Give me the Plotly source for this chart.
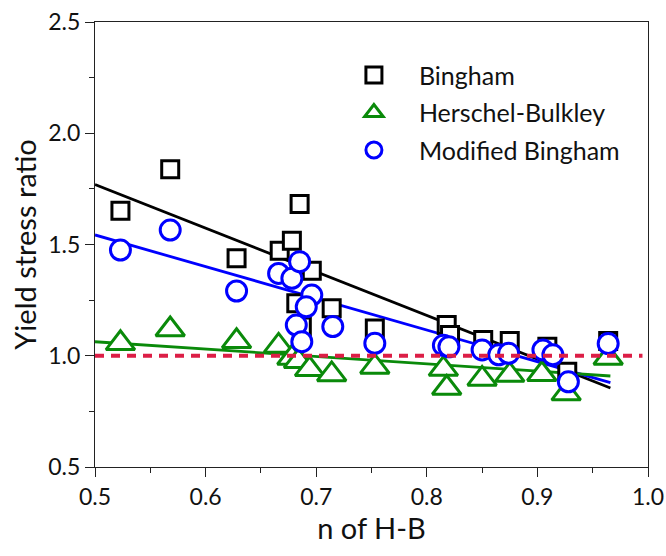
import plotly.graph_objects as go

# Power-law index n from the Herschel-Bulkley fit (x) and the yield stress ratio of each model (y)
bingham_n = [0.523, 0.568, 0.628, 0.667, 0.678, 0.685, 0.696, 0.682, 0.687, 0.714,
             0.753, 0.818, 0.821, 0.851, 0.875, 0.909, 0.927, 0.964]
bingham_ratio = [1.652, 1.838, 1.438, 1.472, 1.517, 1.682, 1.382, 1.236, 1.131, 1.213,
                 1.123, 1.138, 1.093, 1.071, 1.066, 1.040, 0.928, 1.066]

hb_n = [0.523, 0.568, 0.628, 0.666, 0.678, 0.684, 0.694, 0.714, 0.753, 0.815,
        0.818, 0.850, 0.875, 0.904, 0.926, 0.964]
hb_ratio = [1.056, 1.118, 1.065, 1.044, 0.990, 0.975, 0.939, 0.916, 0.950, 0.940,
            0.855, 0.896, 0.913, 0.917, 0.830, 0.990]

mb_n = [0.523, 0.568, 0.628, 0.666, 0.678, 0.685, 0.696, 0.691, 0.682, 0.687,
        0.715, 0.753, 0.815, 0.820, 0.850, 0.865, 0.874, 0.905, 0.914, 0.928, 0.964]
mb_ratio = [1.475, 1.565, 1.291, 1.370, 1.348, 1.423, 1.273, 1.220, 1.138, 1.063,
            1.131, 1.056, 1.047, 1.040, 1.026, 1.004, 1.011, 1.026, 1.004, 0.883, 1.055]

# Linear trend lines (end points of each fit)
fit_n = [0.5, 0.966]
bingham_fit = [1.770, 0.855]
hb_fit = [1.063, 0.909]
mb_fit = [1.543, 0.879]

# Reference level: ratio = 1
ref_n = [0.5, 0.995]
ref_ratio = [1.0, 1.0]

FONT = "Lato"
BLACK = "#000000"
GREEN = "#0a8a0a"
BLUE = "#0000ff"
RED = "#dc1e46"

fig = go.Figure()

# trend lines sit beneath the markers
for y, c in [(bingham_fit, BLACK), (mb_fit, BLUE), (hb_fit, GREEN)]:
    fig.add_trace(go.Scatter(x=fit_n, y=y, mode="lines", showlegend=False,
                             line=dict(color=c, width=2.8), hoverinfo="skip"))

fig.add_trace(go.Scatter(
    x=bingham_n, y=bingham_ratio, mode="markers", name="Bingham", legendgroup="a",
    marker=dict(symbol="square", size=17, color="white", line=dict(color=BLACK, width=3))))
fig.add_trace(go.Scatter(
    x=hb_n, y=hb_ratio, mode="markers", name="Herschel-Bulkley", legendgroup="b",
    marker=dict(symbol="triangle-up", size=25, color="white", line=dict(color=GREEN, width=3))))
fig.add_trace(go.Scatter(
    x=mb_n, y=mb_ratio, mode="markers", name="Modified Bingham", legendgroup="c",
    marker=dict(symbol="circle", size=20, color="white", line=dict(color=BLUE, width=3))))

fig.add_trace(go.Scatter(x=ref_n, y=ref_ratio, mode="lines", showlegend=False,
                         line=dict(color=RED, width=4, dash="9px,7px"), hoverinfo="skip"))

axis_common = dict(
    showline=True, linecolor="#222", linewidth=1.3, mirror=True,
    ticks="outside", ticklen=9, tickwidth=1.2, tickcolor="#222",
    showgrid=False, zeroline=False, automargin=False,
    tickfont=dict(family=FONT, size=23, color="#111"),
)

fig.update_xaxes(
    range=[0.5, 1.0], dtick=0.1, tickformat=".1f",
    minor=dict(dtick=0.05, ticks="outside", ticklen=5, tickcolor="#222", tickwidth=1.2),
    title=dict(text="n of H-B", font=dict(family=FONT, size=29, color="#111"), standoff=0),
    **axis_common)
fig.update_yaxes(
    range=[0.5, 2.5], dtick=0.5, tickformat=".1f",
    minor=dict(dtick=0.25, ticks="outside", ticklen=5, tickcolor="#222", tickwidth=1.2),
    title=dict(text="Yield stress ratio", font=dict(family=FONT, size=29, color="#111"), standoff=2),
    **axis_common)

fig.update_layout(
    width=666, height=556,
    margin=dict(l=95, r=18, t=22, b=89),
    plot_bgcolor="white", paper_bgcolor="white",
    font=dict(family=FONT, color="#111"),
    legend=dict(x=0.423, y=0.932, xanchor="left", yanchor="top",
                font=dict(family=FONT, size=25, color="#111"),
                bgcolor="rgba(0,0,0,0)", tracegroupgap=2, itemwidth=80),
)

fig.write_html("out.html")
